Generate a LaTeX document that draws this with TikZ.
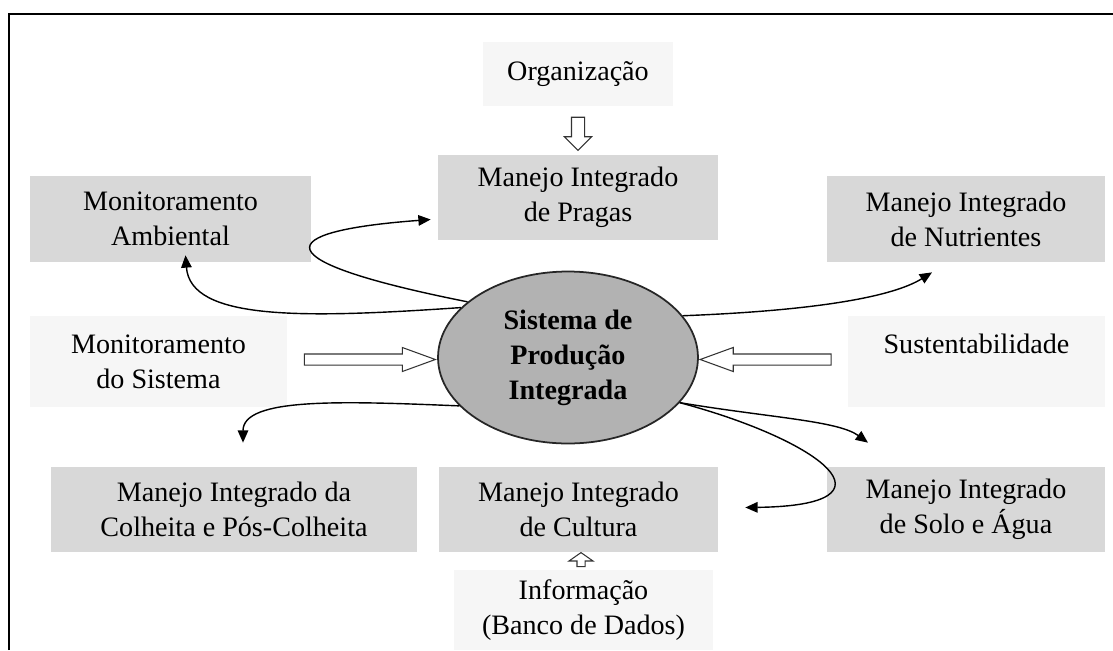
\documentclass[tikz,border=0pt]{standalone}
\usepackage{fontspec}
\setmainfont{Liberation Serif}
\definecolor{BOXcolor}{HTML}{d8d8d8}
\definecolor{LIGHTcolor}{HTML}{f6f6f6}
\definecolor{SYScolor}{HTML}{b2b2b2}
\usetikzlibrary{calc, shapes.geometric, shapes.arrows, arrows.meta}

\begin{document}
\begin{tikzpicture}[x=0.02cm, y=-0.02cm]
    \tikzset{%
        graybox/.style={fill=BOXcolor, align=center, inner sep=0pt, minimum height=1.72cm,
                font=\fontsize{16pt}{20pt}\selectfont},
        lightbox/.style={graybox, fill=LIGHTcolor},
        link/.style={line width=0.8pt, -{Triangle[length=7pt, width=6pt]}},
        hollow/.style={single arrow, draw=black!80, fill=white, line width=0.6pt,
                inner xsep=0pt, inner ysep=0.1cm, single arrow head extend=0.13cm},
    }

    \useasboundingbox (0, 0) rectangle (1113, 650);
    \draw [line width=1.7pt] (9, 650) -- (9, 14) -- (1113, 14);

    % boxes
    \node (org) at (578, 74) [lightbox, minimum width=3.82cm, minimum height=1.28cm] {Organização};
    \node (pragas) at (578, 197.5) [graybox, minimum width=5.6cm, minimum height=1.7cm] {Manejo Integrado\\de Pragas};
    \node (ambiental) at (170.5, 219) [graybox, minimum width=5.62cm] {Monitoramento\\Ambiental};
    \node (nutrientes) at (966, 219) [graybox, minimum width=5.56cm] {Manejo Integrado\\de Nutrientes};
    \node (monsist) at (158.5, 361.5) [lightbox, minimum width=5.14cm, minimum height=1.82cm] {Monitoramento\\do Sistema};
    \node (sust) at (976.5, 361.5) [lightbox, minimum width=5.14cm, minimum height=1.82cm] {Sustentabilidade\\~};
    \node (colheita) at (234, 509.5) [graybox, minimum width=7.32cm, minimum height=1.7cm] {Manejo Integrado da\\Colheita e Pós-Colheita};
    \node (cultura) at (578.5, 509.5) [graybox, minimum width=5.58cm, minimum height=1.7cm] {Manejo Integrado\\de Cultura};
    \node (solo) at (966, 509.5) [graybox, minimum width=5.56cm, minimum height=1.7cm] {Manejo Integrado\\de Solo e Água};
    \node (info) at (583.5, 610) [lightbox, minimum width=5.18cm, minimum height=1.6cm] {Informação\\(Banco de Dados)};

    \node (sys) at (568, 357.5) [ellipse, draw=black!85, line width=1pt, fill=SYScolor, inner sep=0pt,
        minimum width=5.2cm, minimum height=3.44cm, align=center,
        font=\fontsize{16pt}{20pt}\selectfont\bfseries] {Sistema de\\Produção\\Integrada};

    % hollow arrows
    \node [hollow, minimum height=0.66cm, inner xsep=0.12cm, inner ysep=0pt, single arrow tip angle=90,
        single arrow head extend=0.14cm, shape border rotate=270] at ($(org.south)!0.5!(pragas.north)$) {};
    \node [hollow, minimum height=2.62cm, single arrow tip angle=40] at ($(monsist.east)!0.5!(sys.west)$) {};
    \node [hollow, minimum height=2.62cm, single arrow tip angle=40, shape border rotate=180] at ($(sust.west)!0.5!(sys.east)$) {};
    \node [hollow, minimum height=0.28cm, inner xsep=0.07cm, inner ysep=0pt, single arrow tip angle=110,
        single arrow head extend=0.16cm, shape border rotate=90] at ($(cultura.south)!0.5!(info.north)$) {};

    % curved links
    \draw [link] (sys.151) .. controls +(-206, -41) and +(-161, 12) .. ($(pragas.west) + (-7, 22)$);
    \draw [link] (sys.155) .. controls +(-160, 11) and +(5, 65) .. ($(ambiental.south) + (15, -7)$);
    \draw [link] (sys.20) .. controls +(130, -5) and +(-40, 25) .. ($(nutrientes.south) + (-34, 10)$);
    \draw [link] (sys.204) .. controls +(-120, -5) and +(0, -45) .. ($(colheita.north) + (9, -24)$);
    \draw [link] (sys.-22) .. controls +(90, 15) and +(-30, -22) .. ($(solo.north) + (-98, -24)$);
    \draw [link] (sys.-22) .. controls +(142, 38) and +(160, -2) .. ($(cultura.east) + (27, -2)$);
\end{tikzpicture}
\end{document}
